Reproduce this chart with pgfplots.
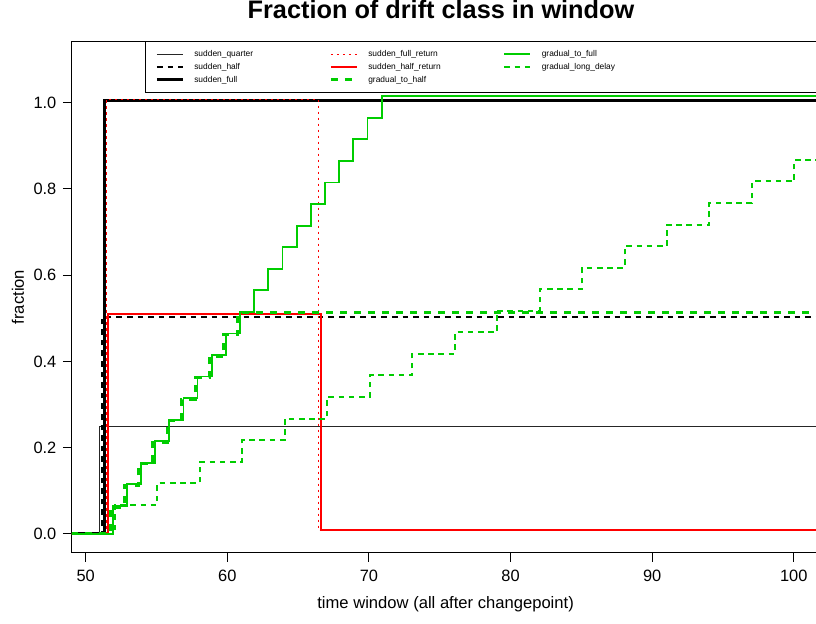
\documentclass[border=0pt]{standalone}
\usepackage{pgfplots}
\pgfplotsset{compat=1.18}
\usepackage{fontspec}
\setmainfont{Liberation Sans}
\definecolor{rgreen}{RGB}{0,205,0}
\definecolor{rred}{RGB}{255,0,0}
\begin{document}
\begin{tikzpicture}
\begin{axis}[
  scale only axis, width=373.6bp, height=255.7bp,
  xmin=49.03, xmax=101.8, ymin=-0.0434, ymax=1.1424,
  axis line style={line width=0.5bp},
  every tick/.style={black, line width=0.5bp},
  tick align=outside, major tick length=4.5bp,
  tick pos=left,
  xtick={50,60,70,80,90,100},
  ytick={0,0.2,0.4,0.6,0.8,1},
  /pgf/number format/assume math mode=true,
  yticklabel style={/pgf/number format/fixed, /pgf/number format/fixed zerofill, /pgf/number format/precision=1},
  every tick label/.append style={font=\fontsize{8.2bp}{9.5bp}\selectfont},
  xticklabel style={anchor=base, yshift=-10bp, inner sep=0pt},
  yticklabel style={anchor=east, xshift=-3.15bp, inner sep=0pt},
  xlabel={time window (all after changepoint)},
  ylabel={fraction},
  xlabel style={at={(axis description cs:0.5,0)}, anchor=base, yshift=-27.7bp, font=\fontsize{8.3bp}{9.5bp}\selectfont, inner sep=0pt},
  ylabel style={at={(axis description cs:0,0.5)}, anchor=base, yshift=24bp, font=\fontsize{8.3bp}{9.5bp}\selectfont, inner sep=0pt},
  title={Fraction of drift class in window},
  title style={at={(axis description cs:0.4938,1)}, anchor=base, yshift=5.3bp, font=\bfseries\fontsize{12.65bp}{14bp}\selectfont, inner sep=0pt},
  legend columns=3, transpose legend,
  legend cell align=left,
  legend image code/.code={\path[draw=none] (0bp,0bp) -- (18.65bp,0bp); \draw[#1] (0bp,0bp) -- (12.85bp,0bp);},
  legend style={at={(axis description cs:0.0981,1)}, anchor=north west,
    draw=black, line width=0.5bp, fill=white,
    inner xsep=4.85bp, inner ysep=4.18bp,
    column sep=0bp, row sep=2.12bp,
    font=\fontsize{4.2bp}{5bp}\selectfont,
    nodes={inner sep=0pt, text height=3.3bp, text depth=0.9bp}},
]
\coordinate (SW) at (rel axis cs:0,0);

% sudden_quarter
\addplot[const plot, black!85, line width=0.6bp] coordinates {(48,0) (51.0,0.25) (102,0.25)};
\addlegendentry{\makebox[67.6bp][l]{sudden\_quarter}}
% sudden_half
\addplot[const plot, black, line width=1bp, dash pattern=on 2.8bp off 2.5bp] coordinates {(48,0) (51.15,0.5025) (102,0.5025)};
\addlegendentry{\makebox[67.6bp][l]{sudden\_half}}
% sudden_full
\addplot[const plot, black, line width=1.5bp] coordinates {(48,0) (51.3,1.005) (102,1.005)};
\addlegendentry{\makebox[67.6bp][l]{sudden\_full}}
% sudden_full_return
\addplot[const plot, rred, line width=0.6bp, dash pattern=on 1.2bp off 1.8bp] coordinates {(48,0) (51.45,1.0075) (66.45,0.0075) (102,0.0075)};
\addlegendentry{\makebox[67.6bp][l]{sudden\_full\_return}}
% sudden_half_return
\addplot[const plot, rred, line width=1bp] coordinates {(48,0) (51.6,0.51) (66.6,0.01) (102,0.01)};
\addlegendentry{\makebox[67.6bp][l]{sudden\_half\_return}}
% gradual_to_half
\addplot[const plot, rgreen, line width=1.5bp, dash pattern=on 3.5bp off 3.5bp] coordinates {
(48,0) (51.75,0.0625) (52.75,0.1125) (53.75,0.1625) (54.75,0.2125) (55.75,0.2625)
(56.75,0.3125) (57.75,0.3625) (58.75,0.4125) (59.75,0.4625) (60.75,0.5125) (102,0.5125)};
\addlegendentry{\makebox[67.6bp][l]{gradual\_to\_half}}
% gradual_to_full
\addplot[const plot, rgreen, line width=0.9bp] coordinates {
(48,0) (51.9,0.065) (52.9,0.115) (53.9,0.165) (54.9,0.215) (55.9,0.265)
(56.9,0.315) (57.9,0.365) (58.9,0.415) (59.9,0.465) (60.9,0.515)
(61.9,0.565) (62.9,0.615) (63.9,0.665) (64.9,0.715) (65.9,0.765)
(66.9,0.815) (67.9,0.865) (68.9,0.915) (69.9,0.965) (70.9,1.015) (102,1.015)};
\addlegendentry{\makebox[150bp][l]{gradual\_to\_full}}
% gradual_long_delay
\addplot[const plot, rgreen, line width=1bp, dash pattern=on 2.8bp off 2.3bp] coordinates {
(48,0) (52.05,0.0675) (55.05,0.1175) (58.05,0.1675) (61.05,0.2175) (64.05,0.2675)
(67.05,0.3175) (70.05,0.3675) (73.05,0.4175) (76.05,0.4675) (79.05,0.5175)
(82.05,0.5675) (85.05,0.6175) (88.05,0.6675) (91.05,0.7175) (94.05,0.7675)
(97.05,0.8175) (100.05,0.8675) (102,0.8675)};
\addlegendentry{\makebox[150bp][l]{gradual\_long\_delay}}
\end{axis}
\pgfresetboundingbox
\useasboundingbox ([xshift=-36bp,yshift=-35.65bp]SW) rectangle ([xshift=372bp,yshift=276.35bp]SW);
\end{tikzpicture}
\end{document}
